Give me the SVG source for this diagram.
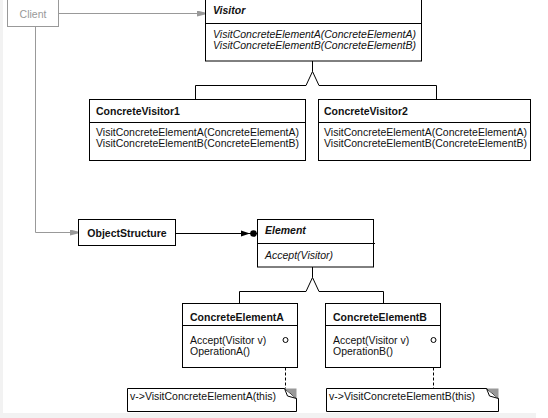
<svg xmlns="http://www.w3.org/2000/svg" width="548" height="418" viewBox="0 0 548 418">
<defs>
<style>
.bg{fill:#f2f2f2}
.box{fill:#fff;stroke:#000;stroke-width:1}
.gbox{fill:#fff;stroke:#999;stroke-width:1}
.ln{fill:none;stroke:#000;stroke-width:1}
.gl{fill:none;stroke:#999;stroke-width:1}
.dl{fill:none;stroke:#000;stroke-width:1;stroke-dasharray:3,2}
.t{font-family:"Liberation Sans",Arial,Helvetica,sans-serif;font-size:10.5px;fill:#111}
.g{fill:#999}
.b{font-weight:bold}
.i{font-style:italic}
.m{text-anchor:middle}
.fold{fill:#999;stroke:none}
</style>
<marker id="garrow" markerUnits="userSpaceOnUse" markerWidth="8" markerHeight="6" viewBox="0 0 8 6" refX="8" refY="3" orient="auto">
<path d="M0,0 L8,2 L8,4 L0,6 Z" fill="#999"/>
</marker>
<marker id="barrow" markerUnits="userSpaceOnUse" markerWidth="16" markerHeight="7" viewBox="0 0 16 7" refX="16" refY="3.5" orient="auto">
<path d="M0,0.5 L9,3.5 L0,6.5 Z" fill="#000"/>
<circle cx="12.5" cy="3.5" r="3.3" fill="#000"/>
</marker>
</defs>
<rect width="548" height="418" fill="#fff"/>
<rect class="bg" x="0" y="0" width="3" height="418"/>
<rect class="bg" x="0" y="413" width="536" height="5"/>

<g id="connectors">
<path class="gl" d="M58.5,13.5 H205" marker-end="url(#garrow)"/>
<path class="gl" d="M35.5,27 V232.5 H78" marker-end="url(#garrow)"/>
<path class="ln" d="M175.5,233.5 H257" marker-end="url(#barrow)"/>
<path class="ln" d="M312.5,61 V71.5 M306,85.5 L312.5,71.5 L319,85.5 M195.5,99 V85.5 H306 M319,85.5 H436.5 V99"/>
<path class="ln" d="M312.5,267 V277.5 M306,291.5 L312.5,277.5 L319,291.5 M239.5,303 V291.5 H306 M319,291.5 H383.5 V303"/>
<path class="dl" d="M285.5,342.5 V388.5"/>
<path class="dl" d="M433.5,342.5 V388.5"/>
</g>

<g id="client">
<rect class="gbox" x="7.5" y="-1.5" width="51" height="28"/>
<text class="t g m" x="33" y="17.5">Client</text>
</g>

<g id="visitor">
<rect class="box" x="205.5" y="-1.5" width="216" height="62.5"/>
<path class="ln" d="M205.5,23.5 H421.5"/>
<text class="t b i" x="213" y="14">Visitor</text>
<text class="t i" x="213" y="38">VisitConcreteElementA(ConcreteElementA)</text>
<text class="t i" x="213" y="49">VisitConcreteElementB(ConcreteElementB)</text>
</g>

<g id="concretevisitor1">
<rect class="box" x="89.5" y="99.5" width="216" height="61"/>
<path class="ln" d="M89.5,122.5 H305.5"/>
<text class="t b" x="96" y="115">ConcreteVisitor1</text>
<text class="t" x="96" y="136">VisitConcreteElementA(ConcreteElementA)</text>
<text class="t" x="96" y="147">VisitConcreteElementB(ConcreteElementB)</text>
</g>

<g id="concretevisitor2">
<rect class="box" x="318.5" y="99.5" width="212" height="61"/>
<path class="ln" d="M318.5,122.5 H530.5"/>
<text class="t b" x="324" y="115">ConcreteVisitor2</text>
<text class="t" x="324" y="136">VisitConcreteElementA(ConcreteElementA)</text>
<text class="t" x="324" y="147">VisitConcreteElementB(ConcreteElementB)</text>
</g>

<g id="objectstructure">
<rect class="box" x="78.5" y="219.5" width="97" height="26"/>
<text class="t b m" x="127" y="237">ObjectStructure</text>
</g>

<g id="element">
<rect class="box" x="257.5" y="219.5" width="116" height="47.5"/>
<path class="ln" d="M257.5,243.5 H375"/>
<text class="t b i" x="265" y="234">Element</text>
<text class="t i" x="265" y="259">Accept(Visitor)</text>
</g>

<g id="concreteelementa">
<rect class="box" x="182.5" y="303.5" width="115" height="64"/>
<path class="ln" d="M182.5,325.5 H297.5"/>
<text class="t b" x="190" y="321">ConcreteElementA</text>
<text class="t" x="190" y="343.5">Accept(Visitor v)</text>
<text class="t" x="190" y="355">OperationA()</text>
<circle class="box" cx="285.5" cy="340" r="2.5"/>
</g>

<g id="concreteelementb">
<rect class="box" x="325.5" y="303.5" width="115" height="64"/>
<path class="ln" d="M325.5,325.5 H440.5"/>
<text class="t b" x="333" y="321">ConcreteElementB</text>
<text class="t" x="333" y="343.5">Accept(Visitor v)</text>
<text class="t" x="333" y="355">OperationB()</text>
<circle class="box" cx="433.5" cy="340" r="2.5"/>
</g>

<g id="notea">
<path class="box" d="M127.5,388.5 H284.5 L296.5,398.5 V411.5 H127.5 Z"/>
<path class="fold" d="M284.5,388.5 H296.5 V398.5 Z"/>
<path class="ln" d="M284.5,388.5 L287.5,396 L296.5,398.5"/>
<text class="t" x="130" y="400">v-&gt;VisitConcreteElementA(this)</text>
</g>

<g id="noteb">
<path class="box" d="M326.5,388.5 H486.5 L498.5,398.5 V411.5 H326.5 Z"/>
<path class="fold" d="M486.5,388.5 H498.5 V398.5 Z"/>
<path class="ln" d="M486.5,388.5 L489.5,396 L498.5,398.5"/>
<text class="t" x="329" y="400">v-&gt;VisitConcreteElementB(this)</text>
</g>
</svg>
